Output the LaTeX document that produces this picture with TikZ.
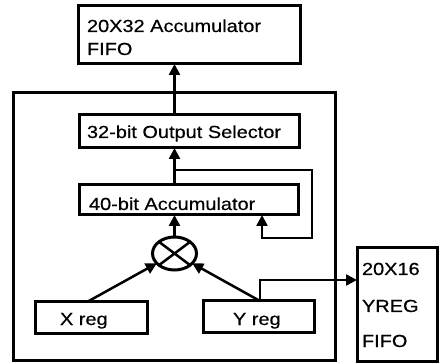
\documentclass[tikz,border=0pt]{standalone}
\usepackage{fontspec}
\setmainfont{Liberation Sans}[FakeBold=0.4]
\usetikzlibrary{arrows.meta,shapes.geometric}
\newcommand{\widetxt}[1]{\scalebox{1.14}[1]{#1}}
\begin{document}
\begin{tikzpicture}[x=1pt,y=-1pt,
  box/.style={draw, rectangle, line width=3pt, inner sep=0pt, outer sep=0pt},
  conn/.style={line width=2.5pt, line join=miter, -{Triangle[length=11pt,width=11pt]}},
  txt/.style={inner sep=0pt, outer sep=0pt, anchor=base west, font=\fontsize{17.5}{21}\selectfont}]
\useasboundingbox (0,0) rectangle (439,363);
% boxes
\node[box, minimum width=222pt, minimum height=58pt] (fifo) at (189,35) {};
\node[box, minimum width=322pt, minimum height=267pt] (big) at (174,226.5) {};
\node[box, minimum width=220pt, minimum height=33pt] (sel) at (189,131.5) {};
\node[box, minimum width=219pt, minimum height=30pt] (acc) at (188.5,200) {};
\node[draw, ellipse, line width=3pt, inner sep=0pt, outer sep=0pt, minimum width=44pt, minimum height=33pt] (mul) at (174.5,253.5) {};
\draw[line width=2.5pt] (mul.north west) -- (mul.south east) (mul.north east) -- (mul.south west);
\node[box, minimum width=112pt, minimum height=31pt] (xreg) at (91,317.5) {};
\node[box, minimum width=111pt, minimum height=31pt] (yreg) at (258.5,316.5) {};
\node[box, minimum width=80pt, minimum height=113pt] (yfifo) at (397,304.5) {};
% texts
\node[txt] (t1) at (87,32) {\widetxt{20X32 Accumulator}};
\node[txt] (t2) at (87,55) {\widetxt{FIFO}};
\node[txt] (t3) at (87,138) {\widetxt{32-bit Output Selector}};
\node[txt] (t4) at (89,210) {\widetxt{40-bit Accumulator}};
\node[txt] (t5) at (60,325) {\widetxt{X reg}};
\node[txt] (t6) at (233,325) {\widetxt{Y reg}};
\node[txt] (t7) at (362,275) {\widetxt{20X16}};
\node[txt] (t8) at (362,312) {\widetxt{YREG}};
\node[txt] (t9) at (362,347) {\widetxt{FIFO}};
% connectors
\coordinate (colx) at (174.5,0);
\coordinate (fb) at (174.5,170);
\coordinate (fbr) at (312,170);
\coordinate (fbb) at (312,238);
\coordinate (fbx) at (262,0);
\coordinate (xa) at (87,0);
\coordinate (ya) at (260,0);
\coordinate (yb) at (260,280);
\draw[conn] (sel.north -| colx) -- (fifo.south -| colx);
\draw[conn] (acc.north -| colx) -- (sel.south -| colx);
\draw[conn] (fb) -- (fbr) -- (fbb) -| (acc.south -| fbx);
\draw[conn] (mul.north) -- (acc.south -| mul.north);
\draw[conn] (xreg.north -| xa) -- (mul);
\draw[conn] (yreg.north -| ya) -- (mul);
\draw[conn] (yreg.north -| ya) -- (yb) -- (yb -| yfifo.west);
\end{tikzpicture}
\end{document}
